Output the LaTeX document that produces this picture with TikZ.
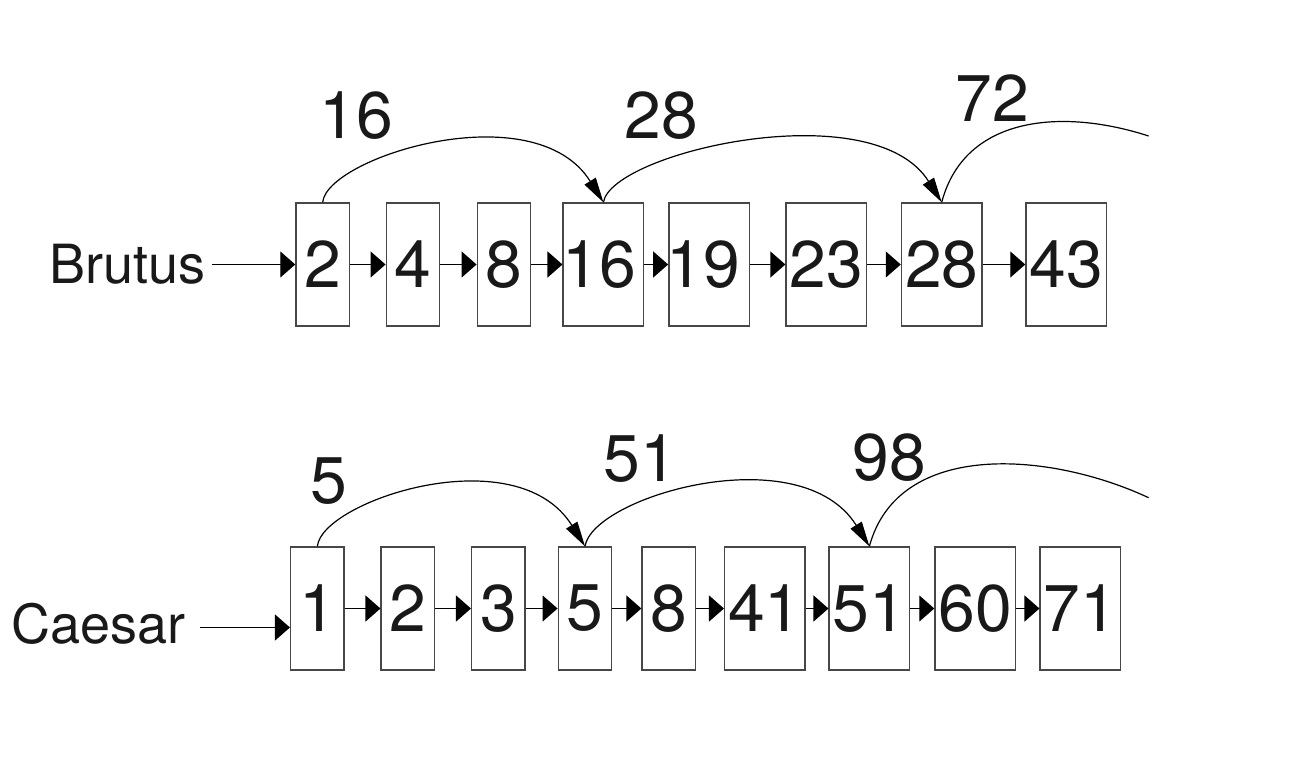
\documentclass[tikz,border=0pt]{standalone}
\usepackage{fontspec}
\setmainfont{TeX Gyre Heros}
\usetikzlibrary{arrows.meta,calc}
\begin{document}
\begin{tikzpicture}[x=1pt,y=-1pt,
  cell/.style={draw=black!72, line width=1.4pt, minimum height=123pt, inner sep=0pt,
    font=\fontsize{66}{66}\selectfont, text=black!90},
  one/.style={cell, minimum width=53.5pt},
  two/.style={cell, minimum width=80.5pt},
  link/.style={line width=1.3pt, -{Triangle[length=15pt,width=26pt]}},
  skip/.style={line width=1.2pt, -{Triangle[length=25pt,width=13pt]}},
  openskip/.style={line width=1.2pt},
  num/.style={font=\fontsize{66}{66}\selectfont, inner sep=0pt, text=black!90},
  term/.style={font=\fontsize{54}{54}\selectfont, inner sep=0pt, text=black!90}]
\useasboundingbox (0,0) rectangle (1313,759);

% ---------------- Brutus ----------------
\node[term, anchor=base west] (brutus) at (49.4,283.3) {Brutus};
\node[one] (b2)  at (322.7,264.5) {2};
\node[one] (b4)  at (413,264.5) {4};
\node[one] (b8)  at (504,264.5) {8};
\node[two] (b16) at (603.4,264.5) {\hspace*{-8pt}16};
\node[two] (b19) at (709.1,264.5) {\hspace*{-12pt}19};
\node[two] (b23) at (826.3,264.5) {23};
\node[two] (b28) at (941.7,264.5) {28};
\node[two] (b43) at (1066.2,264.5) {43};

\coordinate (bs) at ([xshift=6pt]brutus.east);
\draw[link] (bs |- b2.west) -- (b2.west);
\draw[link] (b2.east) -- (b4.west);
\draw[link] (b4.east) -- (b8.west);
\draw[link] (b8.east) -- (b16.west);
\draw[link] (b16.east) -- (b19.west);
\draw[link] (b19.east) -- (b23.west);
\draw[link] (b23.east) -- (b28.west);
\draw[link] (b28.east) -- (b43.west);

\draw[skip] (b2.north) .. controls +(4,-45) and +(-69,-110) .. (b16.north);
\draw[skip] (b16.north) .. controls +(8,-50) and +(-69,-110) .. (b28.north);
\coordinate (bend) at (1148.6,136);
\draw[openskip] (b28.north) .. controls +(23,-87) and +(-85.6,-27.8) .. (bend);

\node[num] (l16) at (356,115.5) {16};
\node[num] (l28) at (661,116) {28};
\node[num] (l72) at (992,98) {72};

% ---------------- Caesar ----------------
\node[term, anchor=base west] (caesar) at (10.9,643.3) {Caesar};
\node[one] (c1)  at (317.4,608.5) {1};
\node[one] (c2)  at (407.9,608.5) {2};
\node[one] (c3)  at (498.4,608.5) {3};
\node[one] (c5)  at (585,608.5) {5};
\node[one] (c8)  at (668.8,608.5) {8};
\node[two] (c41) at (764.9,608.5) {41};
\node[two] (c51) at (869.4,608.5) {51};
\node[two] (c60) at (975.2,608.5) {60};
\node[two] (c71) at (1080.4,608.5) {71};

\coordinate (cs) at ([xshift=15pt]caesar.east);
\coordinate (cin) at ($(c1.west)+(0,19)$);
\draw[link] (cs |- cin) -- (cin);
\draw[link] (c1.east) -- (c2.west);
\draw[link] (c2.east) -- (c3.west);
\draw[link] (c3.east) -- (c5.west);
\draw[link] (c5.east) -- (c8.west);
\draw[link] (c8.east) -- (c41.west);
\draw[link] (c41.east) -- (c51.west);
\draw[link] (c51.east) -- (c60.west);
\draw[link] (c60.east) -- (c71.west);

\draw[skip] (c1.north) .. controls +(4,-45) and +(-69,-110) .. (c5.north);
\draw[skip] (c5.north) .. controls +(8,-50) and +(-69,-110) .. (c51.north);
\coordinate (cend) at (1148.6,497.7);
\draw[openskip] (c51.north) .. controls +(28.6,-106.3) and +(-99.7,-46.5) .. (cend);

\node[num] (l5)  at (329,481) {5};
\node[num] (l51) at (640,459) {51};
\node[num] (l98) at (889,458) {98};
\end{tikzpicture}
\end{document}
